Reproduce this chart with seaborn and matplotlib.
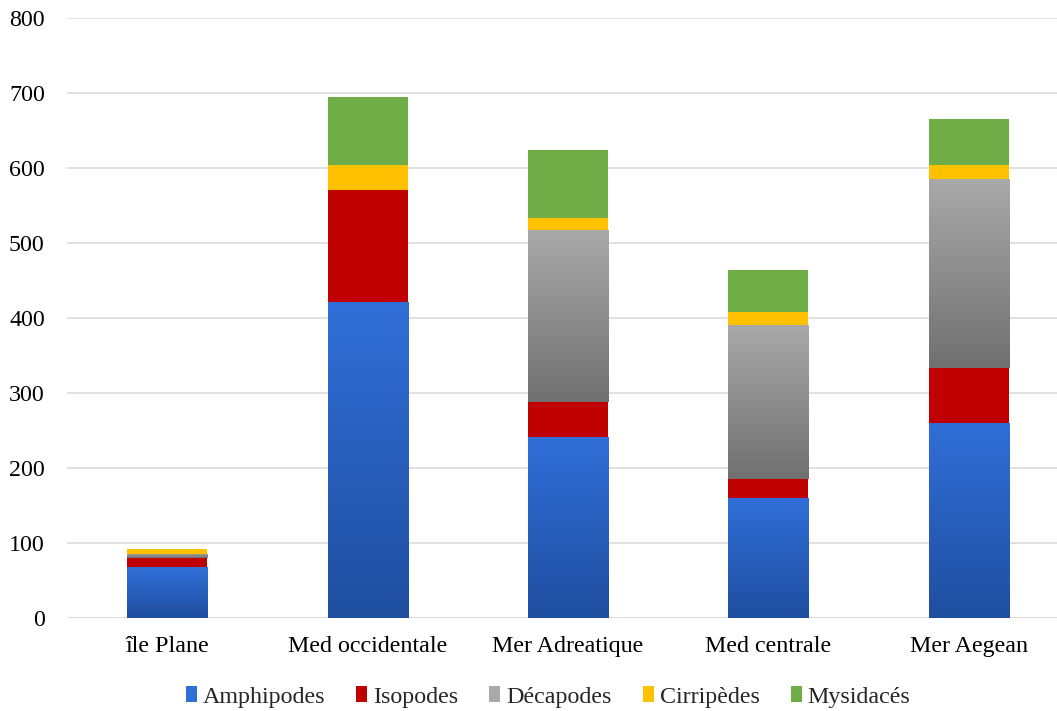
import numpy as np
import matplotlib
matplotlib.use("Agg")
import matplotlib.pyplot as plt
from matplotlib.colors import LinearSegmentedColormap
from matplotlib.patches import Patch
import seaborn as sns

categories = ["île Plane", "Med occidentale", "Mer Adreatique", "Med centrale", "Mer Aegean"]
amphipodes = [68, 421, 241, 160, 260]
isopodes = [12, 150, 47, 25, 73]
decapodes = [6, 0, 229, 206, 252]
cirripedes = [6, 33, 16, 17, 19]
mysidaces = [0, 91, 91, 56, 61]

series_names = ["Amphipodes", "Isopodes", "Décapodes", "Cirripèdes", "Mysidacés"]
series_values = [amphipodes, isopodes, decapodes, cirripedes, mysidaces]
# (top colour, bottom colour) for each series
series_colors = [("#306fd8", "#1f4e9f"),
                 ("#c00000", "#c00000"),
                 ("#a9a9a9", "#707070"),
                 ("#ffc000", "#ffc000"),
                 ("#70ad47", "#70ad47")]

sns.set_theme(style="white")
plt.rcParams["font.family"] = ["Liberation Serif", "DejaVu Serif"]
FS = 17.3

fig = plt.figure(figsize=(10.57, 7.11), dpi=100)
ax = fig.add_axes([67 / 1057, 1 - 618 / 711, 1 - 67 / 1057, 600 / 711])

bottom = np.zeros(len(categories))
for name, vals, (ctop, cbot) in zip(series_names, series_values, series_colors):
    sns.barplot(x=categories, y=vals, bottom=bottom, color=ctop, width=0.4,
                saturation=1, ax=ax, zorder=3, linewidth=0)
    bottom = bottom + np.array(vals)

# vertical gradient fill for each bar segment
grad = np.linspace(0, 1, 256).reshape(-1, 1)
for container, (ctop, cbot) in zip(ax.containers, series_colors):
    if ctop == cbot:
        continue
    cmap = LinearSegmentedColormap.from_list("g", [cbot, ctop])
    for patch in container.patches:
        x0, y0 = patch.get_x(), patch.get_y()
        w, h = patch.get_width(), patch.get_height()
        if h <= 0:
            continue
        img = ax.imshow(grad, extent=(x0, x0 + w, y0, y0 + h), origin="lower",
                        cmap=cmap, aspect="auto", zorder=3.1, interpolation="bilinear")
        img.set_clip_path(patch)

ax.set_xlim(-0.5, 4.44)
ax.set_ylim(0, 800)
ax.set_yticks(range(0, 801, 100))
ax.yaxis.grid(True, color="#d9d9d9", linewidth=1.1, zorder=0)
ax.xaxis.grid(False)
for s in ax.spines.values():
    s.set_visible(False)
ax.axhline(0, color="#d9d9d9", linewidth=1.1, zorder=2)
ax.tick_params(axis="y", length=0, pad=16, labelsize=FS, colors="black")
ax.tick_params(axis="x", length=0, pad=13, labelsize=FS, colors="black")
ax.set_xlabel("")
ax.set_ylabel("")

handles = [Patch(facecolor=ct, edgecolor="none") for ct, cb in series_colors]
fig.legend(handles, series_names, loc="center", bbox_to_anchor=(0.5185, 1 - 697 / 711),
           ncol=5, frameon=False, fontsize=FS, handlelength=0.45, handleheight=0.6,
           handletextpad=0.25, columnspacing=1.3)

fig.savefig("out.png", dpi=100)
